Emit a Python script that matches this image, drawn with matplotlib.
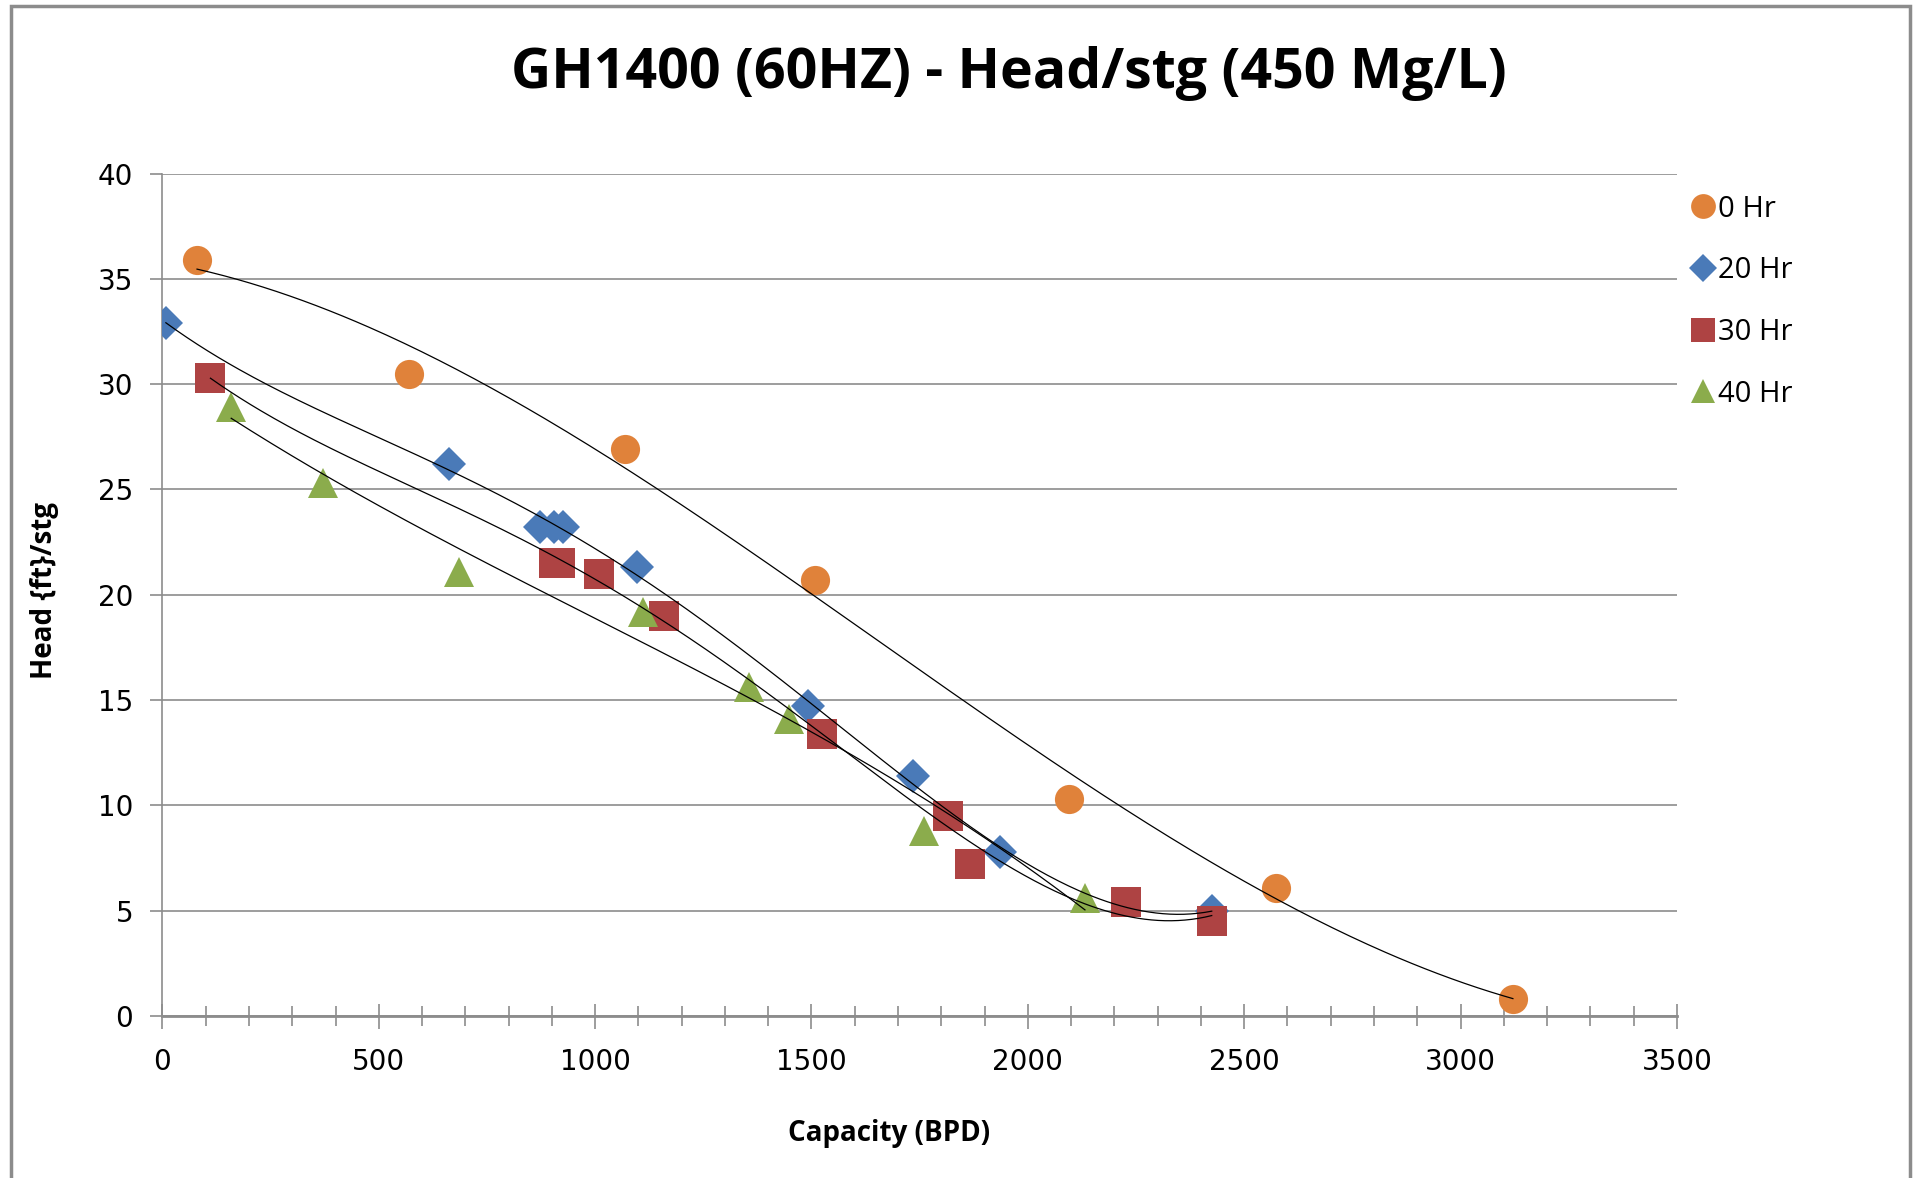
import numpy as np
import matplotlib
matplotlib.use("Agg")
import matplotlib.pyplot as plt
from matplotlib.patches import Rectangle
from matplotlib.ticker import MultipleLocator

plt.rcParams['font.family'] = ['Open Sans', 'DejaVu Sans']

# Pump test points: capacity (BPD) vs head per stage (ft)
hr0_q = [80, 571, 1069, 1507, 2095, 2573, 3121]
hr0_h = [35.9, 30.5, 26.9, 20.7, 10.3, 6.1, 0.8]

hr20_q = [8, 662, 872, 904, 926, 1097, 1492, 1734, 1936, 2425]
hr20_h = [32.9, 26.2, 23.2, 23.2, 23.2, 21.3, 14.7, 11.4, 7.8, 5.0]

hr30_q = [111, 905, 918, 1009, 1160, 1524, 1816, 1867, 2226, 2425]
hr30_h = [30.3, 21.5, 21.5, 21.0, 19.0, 13.4, 9.5, 7.2, 5.4, 4.5]

hr40_q = [159, 370, 685, 1111, 1356, 1447, 1760, 2132]
hr40_h = [28.9, 25.3, 21.1, 19.2, 15.6, 14.1, 8.8, 5.6]

labels = ['0 Hr', '20 Hr', '30 Hr', '40 Hr']
colors = ['#E0823A', '#4A7AB8', '#AE4343', '#8BAC4C']
markers = ['o', 'D', 's', '^']
sizes = [21, 17, 21, 21]
fit_order = [3, 4, 4, 3]

series = [(hr0_q, hr0_h), (hr20_q, hr20_h), (hr30_q, hr30_h), (hr40_q, hr40_h)]

fig = plt.figure(figsize=(19.29, 11.78), dpi=100)
ax = fig.add_axes([0.0842, 0.1375, 0.7851, 0.7152])

handles = []
for (q, h), lab, c, m, ms, deg in zip(series, labels, colors, markers, sizes, fit_order):
    ln, = ax.plot(q, h, linestyle='none', marker=m, markersize=ms,
                  color=c, markeredgewidth=0, label=lab, zorder=3)
    handles.append(ln)
    # polynomial trendline over the measured range
    coef = np.polyfit(q, h, deg)
    xs = np.linspace(min(q), max(q), 300)
    ax.plot(xs, np.polyval(coef, xs), color='black', linewidth=0.9, zorder=4)

ax.set_xlim(0, 3500)
ax.set_ylim(0, 40)
ax.xaxis.set_major_locator(MultipleLocator(500))
ax.xaxis.set_minor_locator(MultipleLocator(100))
ax.yaxis.set_major_locator(MultipleLocator(5))

ax.grid(axis='y', color='#8C8C8C', linewidth=1.2)
ax.set_axisbelow(True)
for side in ['top', 'right']:
    ax.spines[side].set_visible(False)
ax.spines['left'].set_color('#8C8C8C')
ax.spines['left'].set_linewidth(1.2)
ax.spines['bottom'].set_color('#8C8C8C')
ax.spines['bottom'].set_linewidth(2.0)

ax.tick_params(axis='y', direction='out', length=9, width=1.2, color='#8C8C8C',
               labelsize=20, pad=12)
ax.tick_params(axis='x', which='major', direction='inout', length=18, width=1.2,
               color='#8C8C8C', labelsize=20, pad=14)
ax.tick_params(axis='x', which='minor', direction='inout', length=14, width=1.2,
               color='#8C8C8C')
for t in ax.get_xticklabels() + ax.get_yticklabels():
    t.set_fontfamily('DejaVu Sans')

fig.text(0.461, 0.038, 'Capacity (BPD)', ha='center', va='center',
         fontsize=20, fontweight='bold')
fig.text(0.023, 0.499, 'Head {ft}/stg', ha='center', va='center', rotation=90,
         fontsize=20, fontweight='bold')

fig.text(0.523, 0.938, 'GH1400 (60HZ) - Head/stg (450 Mg/L)', ha='center', va='center',
         fontsize=40, fontweight='bold')

fig.legend(handles=handles, labels=labels, loc='upper left',
           bbox_to_anchor=(0.864, 0.857), frameon=False, fontsize=21,
           markerscale=0.85, handlelength=0.7, handletextpad=0.15, labelspacing=1.12)

# outer chart frame
fig.patches.append(Rectangle((0.0055, -0.02), 0.9845, 1.015, transform=fig.transFigure,
                             fill=False, edgecolor='#8C8C8C', linewidth=2.5))

fig.savefig('out.png', dpi=100)
